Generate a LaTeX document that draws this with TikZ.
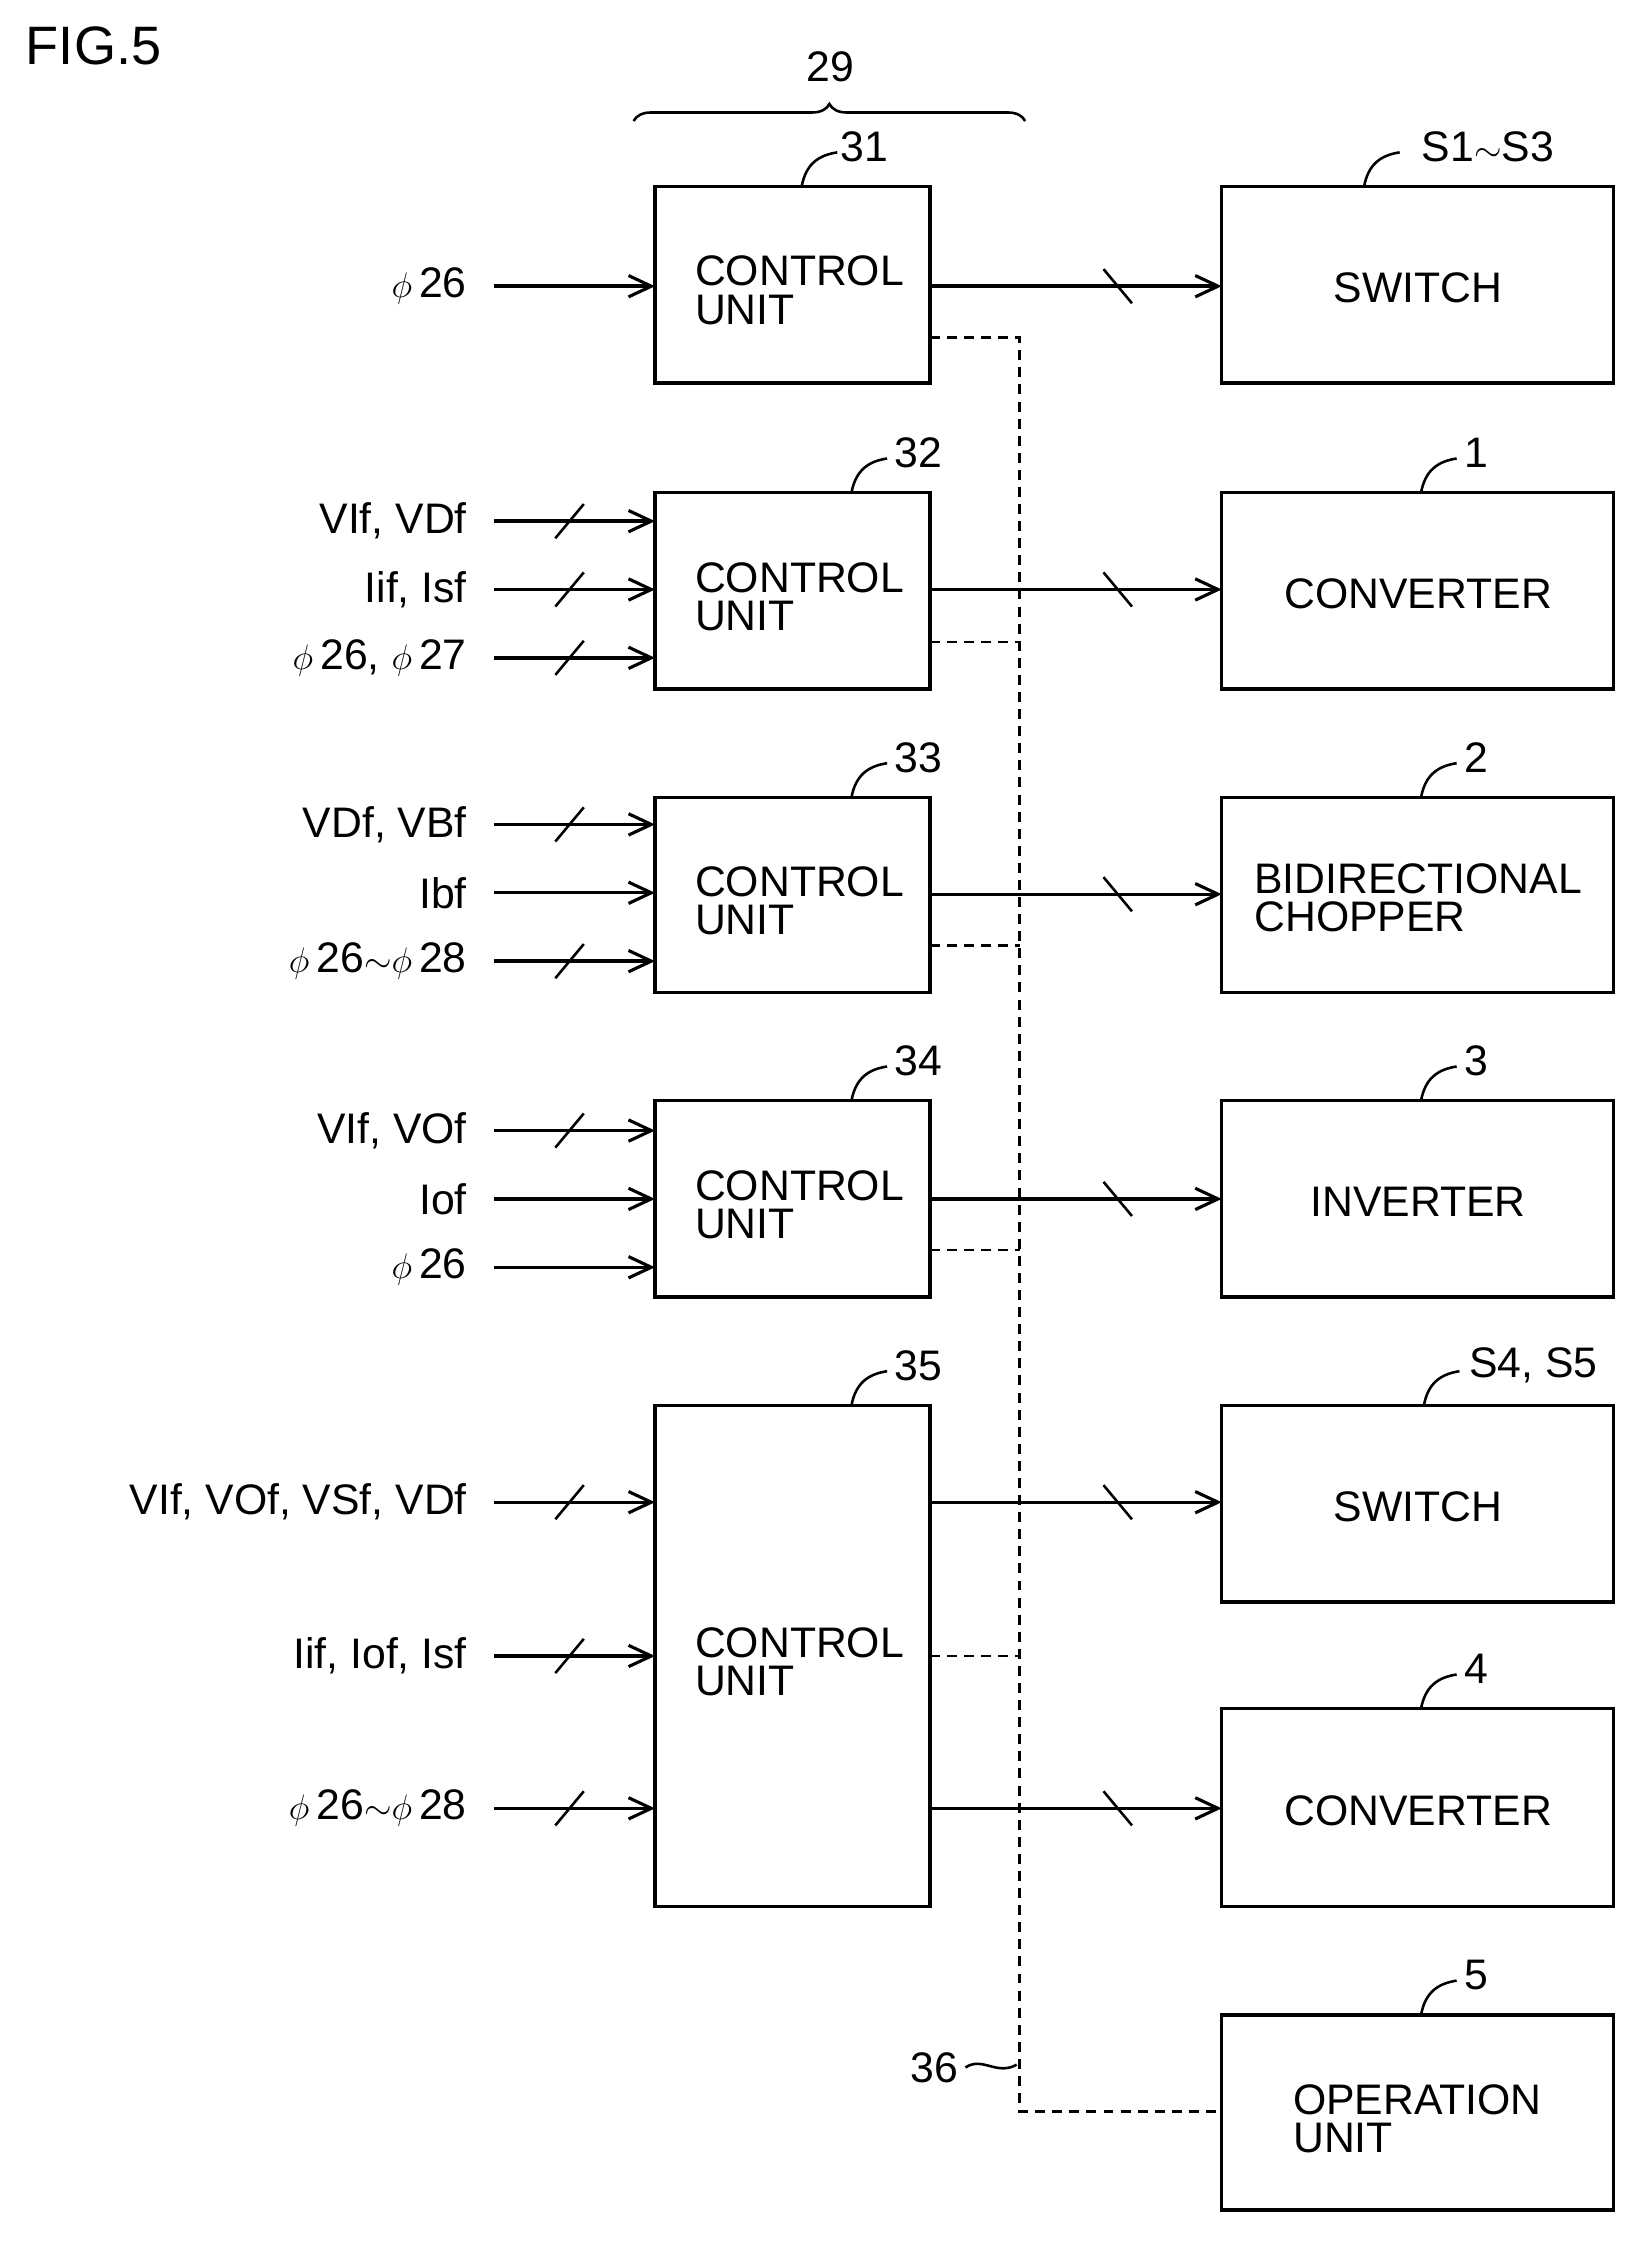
\documentclass[tikz,border=0pt]{standalone}
\usepackage{fontspec}
\setmainfont{Liberation Sans}
\usetikzlibrary{arrows.meta,decorations.pathreplacing}
\begin{document}
\begin{tikzpicture}[x=1pt,y=-1pt,
  box/.style={draw,line width=2.4pt},
  txt/.style={font=\fontsize{30}{30}\selectfont},
  arr/.style={line width=2.4pt,-{Straight Barb[length=16pt,width=15pt,line width=2.2pt]}},
  dsh/.style={line width=1.8pt,dash pattern=on 7pt off 5pt},
  lead/.style={line width=1.8pt}]
\useasboundingbox (0,0) rectangle (1160,1583);
\fontsize{30}{30}\selectfont
\def\ph{{\fontsize{36}{36}\selectfont$\phi$}\,}
\node[anchor=west,font=\fontsize{38}{38}\selectfont] (fig) at (8,32) {FIG.5};
% control units
\foreach \n/\t/\b/\cx/\lx in {31/131/269/563/607,32/346/484/598/645,33/560/697/598/645,34/773/911/598/645,35/987/1339/598/645}{
  \draw[box] (460,\t) rectangle (653,\b);
  \node[txt,anchor=west,align=left] (u\n) at (478,{(\t+\b)/2+4}) {CONTROL\\[-3pt]UNIT};
  \draw[lead] (\cx,\t) .. controls ({\cx+3},{\t-16}) and ({\cx+12},{\t-22}) .. ({\cx+25},{\t-24});
  \node[txt] at (\lx,{\t-28}) {\n};
}
% brace
\draw[lead,decorate,decoration={brace,amplitude=12pt}] (445,85) -- (720,85);
\node[txt] (l29) at (583,47) {29};
% right boxes
\foreach \t/\b/\s/\lab/\lx/\cx in {131/269/{SWITCH}/{S1$\sim$S3}/1045/958,346/484/{CONVERTER}/1/1037/998,560/697/{BIDIRECTIONAL\\[-3pt]CHOPPER}/2/1037/998,773/911/{INVERTER}/3/1037/998,987/1125/{SWITCH}/{S4, S5}/1077/1000,1200/1339/{CONVERTER}/4/1037/998,1415/1552/{}/5/1037/998}{
  \draw[box] (858,\t) rectangle (1133,\b);
  \node[txt,align=left] at (996,{(\t+\b)/2+2}) {\s};
  \node[txt] at (\lx,{\t-28}) {\lab};
  \draw[lead] (\cx,\t) .. controls ({\cx+3},{\t-16}) and ({\cx+12},{\t-22}) .. ({\cx+25},{\t-24});
}
\node[txt,anchor=west,align=left] (op) at (898,1488) {OPERATION\\[-3pt]UNIT};
% inputs
\def\inp#1#2#3{\coordinate (s) at (347,#1); \coordinate (e) at (460,#1);
  \draw[arr] (s) -- (e); \node[txt,anchor=east] at (338,#1) {#2};
  \ifnum#3=1 \draw[line width=1.8pt] (390,#1+12) -- (410,#1-12);\fi}
\inp{201}{\ph 26}{0}
\inp{366}{VIf, VDf}{1}
\inp{414}{Iif, Isf}{1}
\inp{462}{\ph 26,\ \ph 27}{1}
\inp{579}{VDf, VBf}{1}
\inp{627}{Ibf}{0}
\inp{675}{\ph 26$\sim$\ph 28}{1}
\inp{794}{VIf, VOf}{1}
\inp{842}{Iof}{0}
\inp{890}{\ph 26}{0}
\inp{1055}{VIf, VOf, VSf, VDf}{1}
\inp{1163}{Iif, Iof, Isf}{1}
\inp{1270}{\ph 26$\sim$\ph 28}{1}
% outputs
\foreach \y in {201,414,628,842,1055,1270}{
  \draw[arr] (653,\y) -- (858,\y);
  \draw[line width=1.8pt] (775,\y-12) -- (795,\y+12);
}
% dashed bus
\draw[dsh] (653,237) -- (716,237) -- (716,1483) -- (858,1483);
\foreach \y in {451,664,878,1163}{\draw[dsh] (653,\y) -- (716,\y);}
\node[txt] (l36) at (656,1452) {36};
\draw[lead] (678,1452) .. controls (690,1444) and (700,1458) .. (714,1450);
\end{tikzpicture}
\end{document}
